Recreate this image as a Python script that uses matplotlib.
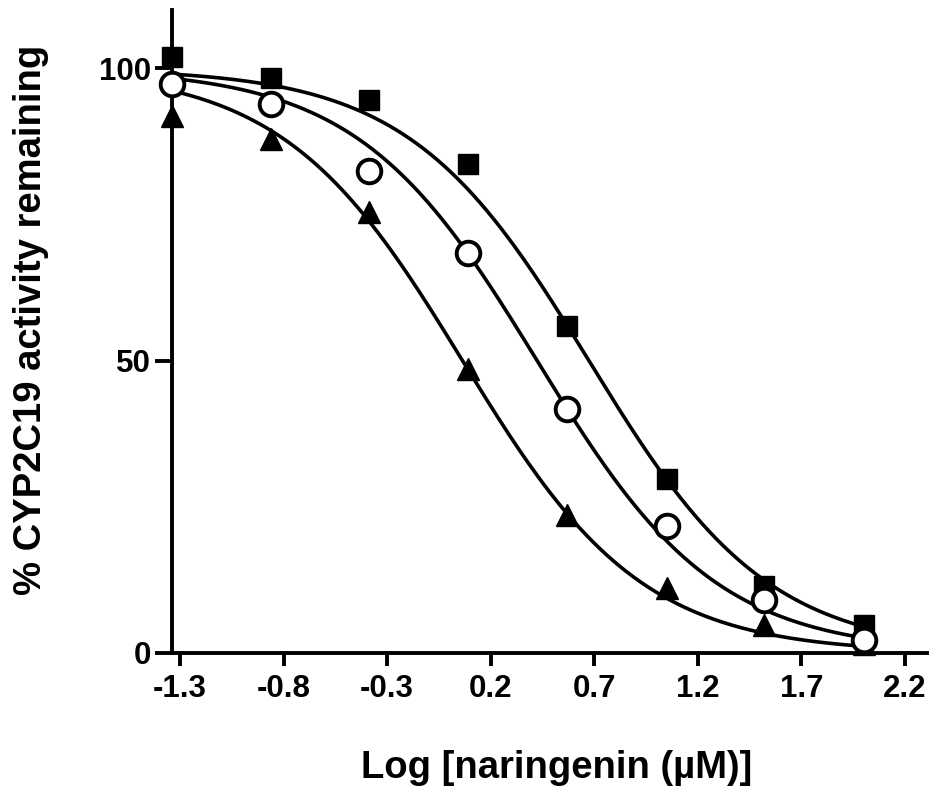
import numpy as np
import matplotlib
matplotlib.use("Agg")
import matplotlib.pyplot as plt

plt.rcParams['font.family'] = ['Liberation Sans', 'DejaVu Sans']

# log [naringenin] (3-fold dilutions from 100 uM)
log_conc = [-1.34, -0.86, -0.39, 0.09, 0.57, 1.05, 1.52, 2.0]

# % activity remaining
sq_y = [101.9, 98.3, 94.6, 83.7, 55.9, 29.8, 11.4, 4.8]
circ_y = [97.3, 93.9, 82.5, 68.5, 41.7, 21.8, 9.1, 2.3]
tri_y = [91.9, 88.0, 75.4, 48.5, 23.6, 11.1, 4.8, 1.5]

# fitted curve parameters (top, bottom, logIC50, hill) estimated from the plot
fit_top = [100, 100, 100]
fit_bottom = [0, 0, 0]
fit_logic50 = [0.674, 0.424, 0.064]
fit_hill = [1.0, 1.0, 1.0]

xticks = [-1.3, -0.8, -0.3, 0.2, 0.7, 1.2, 1.7, 2.2]
yticks = [0, 50, 100]

fig = plt.figure(figsize=(9.34, 7.90), dpi=100)
ax = fig.add_axes([171.7 / 934, 1 - 653 / 790, (927 - 171.7) / 934, (653 - 10) / 790])

xx = np.linspace(log_conc[0], log_conc[-1], 300)
for top, bot, c, h in zip(fit_top, fit_bottom, fit_logic50, fit_hill):
    yy = bot + (top - bot) / (1 + 10 ** ((xx - c) * h))
    ax.plot(xx, yy, color='black', lw=2.6, zorder=2, clip_on=False)

ax.plot(log_conc, sq_y, 's', color='black', ms=14, mew=1, zorder=3, clip_on=False)
ax.plot(log_conc, tri_y, '^', color='black', ms=16, mew=1, zorder=3, clip_on=False)
ax.plot(log_conc, circ_y, 'o', mfc='white', mec='black', ms=17, mew=2.8,
        zorder=4, clip_on=False)

ax.set_xlim(-1.34, 2.306)
ax.set_ylim(0, 110)
ax.set_xticks(xticks)
ax.set_xticklabels([f'{t:.1f}' for t in xticks])
ax.set_yticks(yticks)

for s in ['top', 'right']:
    ax.spines[s].set_visible(False)
for s in ['left', 'bottom']:
    ax.spines[s].set_linewidth(2.8)

ax.tick_params(axis='x', length=9, width=2.8, pad=6, labelsize=22.5)
ax.tick_params(axis='y', length=12, width=2.8, pad=3, labelsize=22.5)
for lab in ax.get_xticklabels() + ax.get_yticklabels():
    lab.set_fontweight('bold')

fig.text(557 / 934, 1 - 768 / 790, 'Log [naringenin (\u00b5M)]', fontsize=27.5,
         fontweight='bold', ha='center', va='center')
fig.text(31 / 934, 1 - 320 / 790, '% CYP2C19 activity remaining', fontsize=27.5,
         fontweight='bold', ha='center', va='center', rotation=90)

fig.savefig('out.png', dpi=100)
